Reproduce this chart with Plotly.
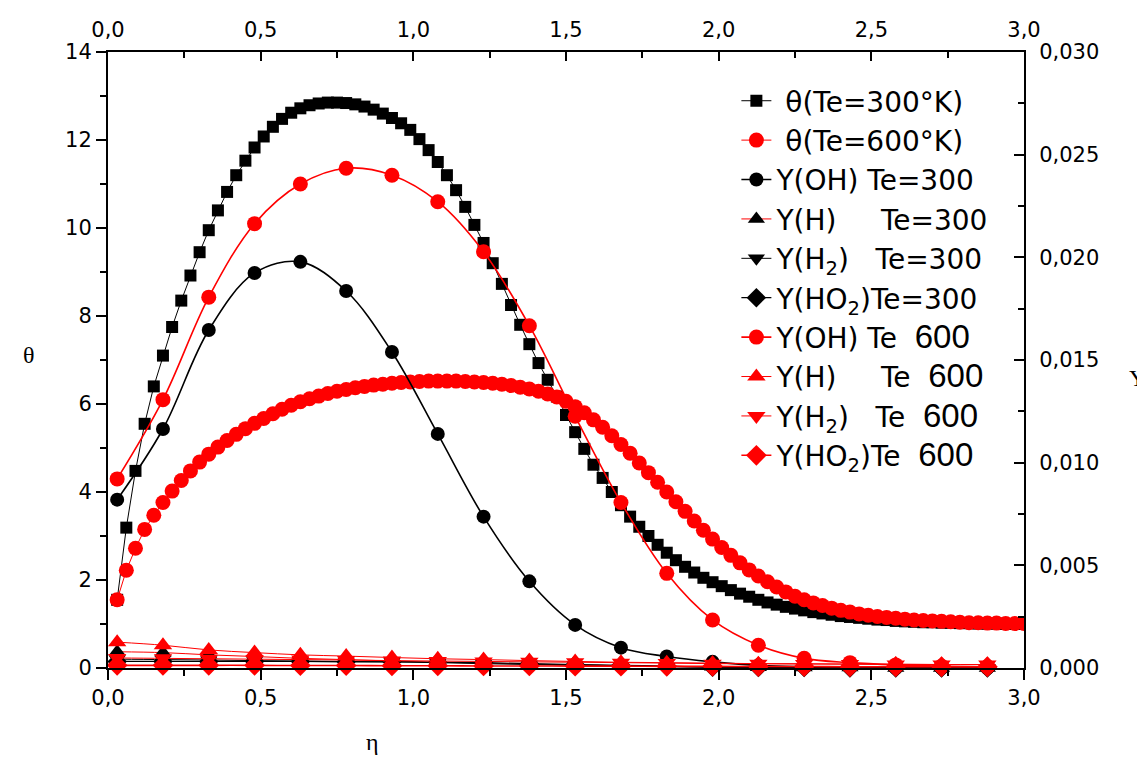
import plotly.graph_objects as go

# ---------------- data ----------------
eta_dense = [0.03, 0.06, 0.09, 0.12, 0.15, 0.18, 0.21, 0.24, 0.27, 0.30,
             0.33, 0.36, 0.39, 0.42, 0.45, 0.48, 0.51, 0.54, 0.57, 0.60,
             0.63, 0.66, 0.69, 0.72, 0.75, 0.78, 0.81, 0.84, 0.87, 0.90,
             0.93, 0.96, 0.99, 1.02, 1.05, 1.08, 1.11, 1.14, 1.17, 1.20,
             1.23, 1.26, 1.29, 1.32, 1.35, 1.38, 1.41, 1.44, 1.47, 1.50,
             1.53, 1.56, 1.59, 1.62, 1.65, 1.68, 1.71, 1.74, 1.77, 1.80,
             1.83, 1.86, 1.89, 1.92, 1.95, 1.98, 2.01, 2.04, 2.07, 2.10,
             2.13, 2.16, 2.19, 2.22, 2.25, 2.28, 2.31, 2.34, 2.37, 2.40,
             2.43, 2.46, 2.49, 2.52, 2.55, 2.58, 2.61, 2.64, 2.67, 2.70,
             2.73, 2.76, 2.79, 2.82, 2.85, 2.88, 2.91, 2.94, 2.97, 3.00]

theta_300 = [1.55, 3.19, 4.48, 5.55, 6.40, 7.10, 7.75, 8.35, 8.92, 9.45,
             9.95, 10.40, 10.82, 11.20, 11.53, 11.83, 12.08, 12.30, 12.48, 12.62,
             12.72, 12.79, 12.83, 12.85, 12.85, 12.84, 12.81, 12.76, 12.69, 12.60,
             12.50, 12.38, 12.23, 12.02, 11.77, 11.50, 11.20, 10.86, 10.48, 10.07,
             9.66, 9.20, 8.73, 8.25, 7.80, 7.36, 6.93, 6.55, 6.17, 5.75,
             5.36, 4.98, 4.62, 4.32, 4.00, 3.70, 3.44, 3.21, 3.00, 2.80,
             2.62, 2.45, 2.30, 2.17, 2.05, 1.95, 1.86, 1.77, 1.69, 1.62,
             1.55, 1.49, 1.44, 1.39, 1.35, 1.31, 1.27, 1.24, 1.21, 1.18,
             1.16, 1.14, 1.12, 1.10, 1.09, 1.07, 1.06, 1.05, 1.04, 1.04,
             1.03, 1.03, 1.02, 1.02, 1.01, 1.01, 1.01, 1.00, 1.00, 1.00]

theta_600 = [1.55, 2.22, 2.72, 3.15, 3.47, 3.76, 4.02, 4.26, 4.48, 4.68,
             4.86, 5.02, 5.17, 5.31, 5.44, 5.56, 5.67, 5.78, 5.88, 5.97,
             6.05, 6.12, 6.18, 6.24, 6.29, 6.33, 6.37, 6.40, 6.43, 6.45,
             6.47, 6.49, 6.50, 6.51, 6.52, 6.52, 6.52, 6.52, 6.51, 6.50,
             6.49, 6.47, 6.45, 6.42, 6.38, 6.34, 6.29, 6.23, 6.16, 6.06,
             5.94, 5.80, 5.64, 5.47, 5.28, 5.08, 4.88, 4.66, 4.44, 4.22,
             4.00, 3.78, 3.56, 3.34, 3.13, 2.93, 2.74, 2.56, 2.39, 2.23,
             2.09, 1.96, 1.84, 1.73, 1.63, 1.55, 1.48, 1.42, 1.36, 1.31,
             1.27, 1.23, 1.20, 1.17, 1.15, 1.13, 1.11, 1.09, 1.08, 1.07,
             1.06, 1.05, 1.04, 1.03, 1.03, 1.02, 1.02, 1.01, 1.01, 1.01]

eta_sparse = [0.03, 0.18, 0.33, 0.48, 0.63, 0.78, 0.93, 1.08, 1.23, 1.38,
              1.53, 1.68, 1.83, 1.98, 2.13, 2.28, 2.43, 2.58, 2.73, 2.88]

y_oh_300 = [0.00820, 0.01164, 0.01646, 0.01924, 0.01978, 0.01836, 0.01539, 0.01140, 0.00737, 0.00422,
            0.00210, 0.00099, 0.00056, 0.00030, 0.00013, 0.00006, 0.00002, 0.0, 0.0, 0.0]
y_h_300 = [0.00079, 0.00075, 0.00064, 0.00056, 0.00047, 0.00041, 0.00034, 0.00028, 0.00024, 0.00019,
           0.00015, 0.00011, 0.00009, 0.00006, 0.00004, 0.00002, 0.00002, 0.0, 0.0, 0.0]
y_h2_300 = [0.00043, 0.00041, 0.00039, 0.00036, 0.00034, 0.00032, 0.00030, 0.00026, 0.00021, 0.00017,
            0.00013, 0.00011, 0.00006, 0.00004, 0.00002, 0.00002, 0.0, 0.0, 0.0, 0.0]
y_ho2_300 = [0.00032, 0.00032, 0.00032, 0.00032, 0.00032, 0.00030, 0.00030, 0.00028, 0.00026, 0.00021,
             0.00017, 0.00013, 0.00009, 0.00004, 0.00002, 0.00002, 0.0, 0.0, 0.0, 0.0]
y_oh_600 = [0.00921, 0.01307, 0.01806, 0.02164, 0.02357, 0.02434, 0.02400, 0.02271, 0.02027, 0.01667,
            0.01226, 0.00806, 0.00461, 0.00234, 0.00111, 0.00047, 0.00026, 0.00015, 0.00009, 0.00006]
y_h_600 = [0.00126, 0.00111, 0.00088, 0.00075, 0.00064, 0.00058, 0.00051, 0.00045, 0.00041, 0.00036,
           0.00032, 0.00028, 0.00026, 0.00024, 0.00021, 0.00021, 0.00019, 0.00019, 0.00017, 0.00017]
y_h2_600 = [0.00049, 0.00047, 0.00045, 0.00043, 0.00041, 0.00039, 0.00036, 0.00034, 0.00032, 0.00030,
            0.00028, 0.00026, 0.00024, 0.00021, 0.00021, 0.00019, 0.00019, 0.00017, 0.00017, 0.00017]
y_ho2_600 = [0.00013, 0.00013, 0.00013, 0.00013, 0.00012, 0.00012, 0.00011, 0.00011, 0.00010, 0.00010,
             0.00009, 0.00009, 0.00008, 0.00008, 0.00007, 0.00007, 0.00006, 0.00006, 0.00006, 0.00006]

NB = "\u00a0"
BIG = "<span style='font-family:Liberation Sans;font-size:33px'>600</span>"
names = [
    NB + "\u03b8(Te=300\u00b0K)",
    NB + "\u03b8(Te=600\u00b0K)",
    "Y(OH)" + NB + "Te=300",
    "Y(H)" + NB * 5 + "Te=300",
    "Y(H<sub>2</sub>)" + NB * 3 + "Te=300",
    "Y(HO<sub>2</sub>)Te=300",
    "Y(OH)" + NB + "Te" + NB * 2 + BIG,
    "Y(H)" + NB * 5 + "Te" + NB * 2 + BIG,
    "Y(H<sub>2</sub>)" + NB * 3 + "Te" + NB * 2 + BIG,
    "Y(HO<sub>2</sub>)Te" + NB * 2 + BIG,
]

BLACK = "black"
RED = "#ff0000"

fig = go.Figure()

# theta curves (left axis)
fig.add_trace(go.Scatter(x=eta_dense, y=theta_300, mode="lines+markers", name=names[0],
                         line=dict(color=BLACK, width=1),
                         marker=dict(symbol="square", size=12, color=BLACK),
                         xaxis="x", yaxis="y", legendgroup="g0"))
fig.add_trace(go.Scatter(x=eta_dense, y=theta_600, mode="lines+markers", name=names[1],
                         line=dict(color=RED, width=1),
                         marker=dict(symbol="circle", size=15, color=RED),
                         xaxis="x", yaxis="y", legendgroup="g1"))

sparse = [
    (y_oh_300, names[2], BLACK, BLACK, "circle", 14, 1.6),
    (y_h_300, names[3], RED, BLACK, "triangle-up", 15, 1),
    (y_h2_300, names[4], BLACK, BLACK, "triangle-down", 15, 1),
    (y_ho2_300, names[5], BLACK, BLACK, "diamond", 15, 1.2),
    (y_oh_600, names[6], RED, RED, "circle", 15, 1.6),
    (y_h_600, names[7], RED, RED, "triangle-up", 16, 1),
    (y_h2_600, names[8], RED, RED, "triangle-down", 16, 1),
    (y_ho2_600, names[9], RED, RED, "diamond", 16, 1.6),
]
for i, (vals, nm, lc, mc, sym, sz, lw) in enumerate(sparse):
    fig.add_trace(go.Scatter(x=eta_sparse, y=vals, mode="lines+markers", name=nm,
                             line=dict(color=lc, width=lw, shape="spline", smoothing=1.0),
                             marker=dict(symbol=sym, size=sz, color=mc),
                             xaxis="x2", yaxis="y2", cliponaxis=False,
                             legendgroup="g%d" % (i + 2)))

tickfont = dict(family="DejaVu Sans", size=21, color="black")
common = dict(showline=True, linewidth=2, linecolor="black", showgrid=False, automargin=False,
              zeroline=False, tickcolor="black", tickwidth=1.5, tickfont=tickfont)

# page body adds an 8px margin, so the figure is 8px smaller on each axis
fig.update_layout(
    width=1137, height=752,
    margin=dict(l=100, r=121, t=44, b=92),
    paper_bgcolor="white", plot_bgcolor="white",
    separators=",.",
    font=dict(family="DejaVu Sans", color="black"),
    xaxis=dict(range=[0, 3], tick0=0, dtick=0.5, tickformat=".1f", ticks="outside", ticklen=10,
               minor=dict(dtick=0.25, ticks="outside", ticklen=6, tickwidth=1.5, tickcolor="black"),
               **common),
    xaxis2=dict(range=[0, 3], tick0=0, dtick=0.5, tickformat=".1f", ticks="inside", ticklen=9,
                overlaying="x", side="top", anchor="y2", ticklabelstandoff=5,
                minor=dict(dtick=0.25, ticks="inside", ticklen=6, tickwidth=1.5, tickcolor="black"),
                **common),
    yaxis=dict(range=[0, 14], tick0=0, dtick=2, ticks="outside", ticklen=10,
               minor=dict(dtick=1, ticks="outside", ticklen=6, tickwidth=1.5, tickcolor="black"),
               **common),
    yaxis2=dict(range=[0, 0.03], tick0=0, dtick=0.005, tickformat=".3f", ticks="inside", ticklen=10,
                overlaying="y", side="right", anchor="x2", ticklabelstandoff=9,
                minor=dict(dtick=0.0025, ticks="inside", ticklen=6, tickwidth=1.5, tickcolor="black"),
                **common),
    legend=dict(x=0.686, y=0.961, xanchor="left", yanchor="top",
                bgcolor="rgba(0,0,0,0)", tracegroupgap=0, itemwidth=30,
                font=dict(family="DejaVu Sans", size=28, color="black")),
    annotations=[
        dict(text="\u03b8", x=-0.095, y=0.508, xref="paper", yref="paper", showarrow=False,
             font=dict(family="Liberation Serif", size=24, color="black")),
        dict(text="\u03b7", x=0.279, y=-0.145, xref="paper", yref="paper", showarrow=False,
             font=dict(family="Liberation Serif", size=24, color="black")),
        dict(text="Y", x=1.112, y=0.471, xref="paper", yref="paper", showarrow=False,
             xanchor="left", font=dict(family="Liberation Serif", size=24, color="black")),
    ],
    shapes=[dict(type="line", xref="paper", yref="paper", x0=1.1277, x1=1.1277, y0=-0.16, y1=1.09,
                 line=dict(color="rgba(240,120,120,0.8)", width=1.5))],
)

fig.write_html("out.html")
